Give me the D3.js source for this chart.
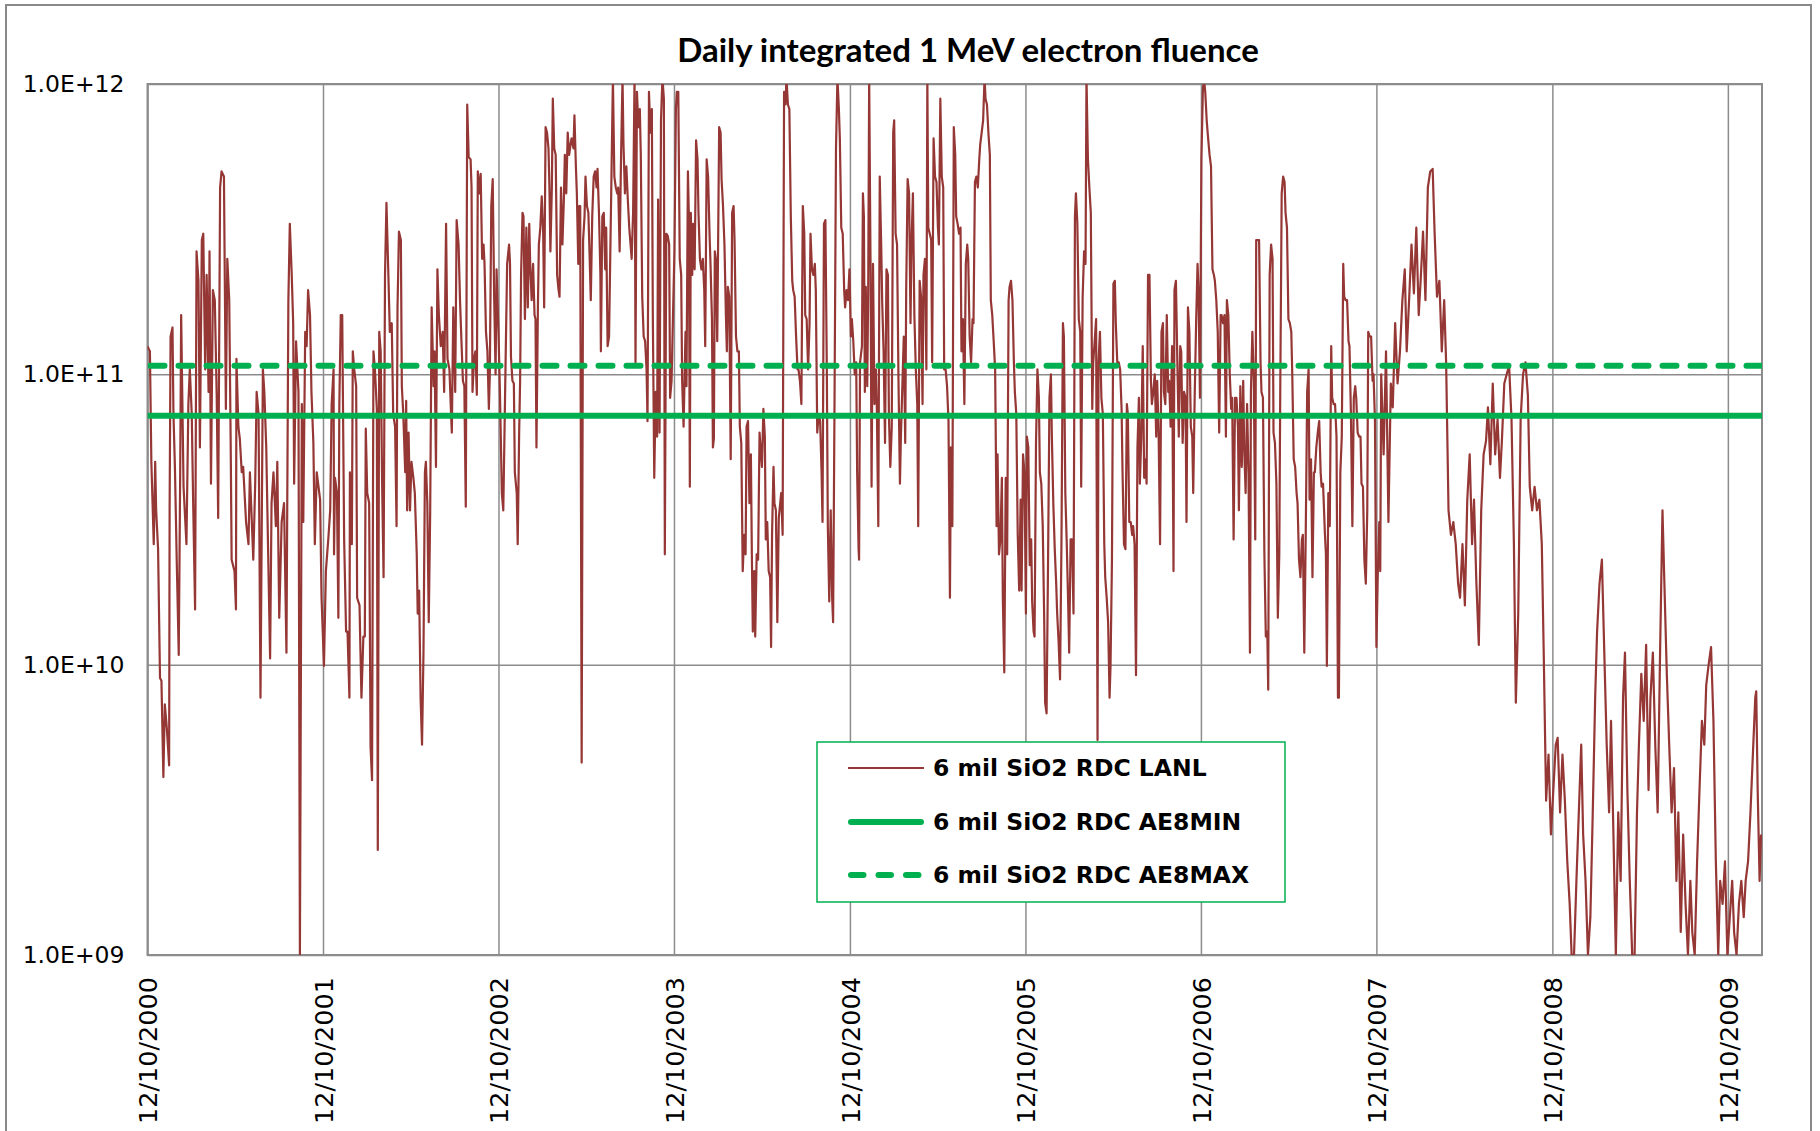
<!DOCTYPE html>
<html>
<head>
<meta charset="utf-8">
<script src="https://cdn.jsdelivr.net/npm/d3@7"></script>
<style>
  html, body { margin: 0; padding: 0; background: #fff; }
  svg { display: block; }
</style>
</head>
<body>
<div id="chart"></div>
<script>
(function () {
  'use strict';

  // ---- data ----
  var chartTitle = 'Daily integrated 1 MeV electron fluence';
  var startDate = new Date(2000, 11, 10);
  var endDay = 3358;
  var xTickYears = [2000, 2001, 2002, 2003, 2004, 2005, 2006, 2007, 2008, 2009];
  var yTickValues = [1e9, 1e10, 1e11, 1e12];
  var yTickLabels = ['1.0E+09', '1.0E+10', '1.0E+11', '1.0E+12'];
  var seriesNames = ['6 mil SiO2 RDC LANL', '6 mil SiO2 RDC AE8MIN', '6 mil SiO2 RDC AE8MAX'];
  var ae8minFluence = 7.2e10;
  var ae8maxFluence = 1.07e11;

  // [days since 12/10/2000, fluence]
  var lanlFluence = [
    [0,1.25e11],[5,1.2e11],[8,5.0e10],[13,2.6e10],[16,5.0e10],[18,3.4e10],[22,2.5e10],[26,9.0e9],[29,8.8e9],[33,4.1e9],
    [36,7.3e9],[40,6.1e9],[45,4.5e9],[46,3.4e10],[48,1.35e11],[52,1.45e11],[54,7.3e10],[57,4.8e10],[61,2.2e10],[65,1.08e10],
    [68,4.6e10],[70,1.6e11],[75,4.1e10],[81,2.6e10],[85,7.9e10],[88,1.04e11],[92,7.3e10],[95,3.6e10],[99,1.55e10],[102,2.65e11],
    [106,2.1e11],[109,5.6e10],[113,2.9e11],[116,3.05e11],[120,1.04e11],[123,2.2e11],[127,8.7e10],[129,2.65e11],[132,4.2e10],[136,1.95e11],
    [140,1.8e11],[144,8.3e10],[147,3.2e10],[151,4.4e11],[154,5.0e11],[159,4.8e11],[163,7.6e10],[166,2.5e11],[170,1.8e11],[173,5.8e10],
    [175,2.3e10],[181,2.1e10],[184,1.55e10],[185,1.13e11],[189,6.6e10],[192,6.0e10],[196,4.6e10],[199,4.8e10],[205,3.1e10],[210,2.6e10],
    [213,4.6e10],[217,3.1e10],[220,2.3e10],[224,4.2e10],[227,8.7e10],[231,7.3e10],[235,7.7e9],[240,1.04e11],[243,8.7e10],[247,5.6e10],
    [251,2.4e10],[255,1.05e10],[258,3.6e10],[262,4.6e10],[267,3.0e10],[270,5.0e10],[274,1.45e10],[279,3.1e10],[284,3.6e10],[289,1.1e10],
    [293,1.8e11],[296,3.3e11],[300,2.2e11],[303,1.5e11],[305,4.2e10],[309,1.3e11],[314,8.7e10],[317,1.0e9],[321,7.9e10],[324,3.1e10],
    [328,1.4e11],[331,1.25e11],[334,1.95e11],[338,1.6e11],[341,8.7e10],[345,5.8e10],[348,2.6e10],[352,4.6e10],[359,3.7e10],[362,1.7e10],
    [367,9.9e9],[371,2.1e10],[376,2.7e10],
    [380,3.4e10],[383,7.9e10],[387,1.04e11],[388,2.4e10],[390,4.4e10],[394,3.9e10],[397,1.45e10],[399,7.9e10],[402,1.6e11],[405,1.6e11],
    [409,2.7e10],[413,1.3e10],[416,1.3e10],[420,7.7e9],[421,4.6e10],[425,2.6e10],[427,1.2e11],[430,1.04e11],[434,9.1e10],[436,1.7e10],
    [441,1.6e10],[443,1.1e10],[445,7.7e9],[449,1.25e10],[452,1.25e10],[454,6.5e10],[457,3.9e10],[461,3.6e10],[464,5.2e9],[467,4.0e9],
    [470,1.2e11],[473,1.04e11],[477,7.6e10],[479,2.3e9],[482,1.4e11],[485,1.2e11],[488,4.2e10],[491,2.0e10],[494,2.2e11],[497,3.9e11],
    [501,2.2e11],[504,1.4e11],[508,1.5e11],[511,7.3e10],[515,6.6e10],[518,3.0e10],[520,1.7e11],[523,3.1e11],[527,2.9e11],[529,9.1e10],
    [532,7.3e10],[536,4.6e10],[538,8.1e10],[540,3.4e10],[543,6.3e10],[546,3.4e10],[549,5.0e10],[553,4.4e10],[556,3.9e10],[560,2.4e10],
    [562,1.5e10],[565,1.8e10],[568,7.7e9],[571,5.3e9],[574,1.1e10],[577,4.6e10],[579,5.0e10],[582,3.6e10],[585,1.4e10],[588,3.4e10],
    [591,1.7e11],[595,9.1e10],[597,1.2e11],[600,4.8e10],[603,2.3e11],[606,1.6e11],[610,1.25e11],[614,1.4e11],[617,8.7e10],[621,3.3e11],
    [624,1.13e11],[628,1.04e11],[631,7.6e10],[633,6.3e10],[636,1.7e11],[640,8.7e10],[643,3.4e11],[647,2.8e11],[650,1.8e11],[653,1.3e11],
    [656,9.5e10],[659,9.1e10],[662,3.5e10],[665,8.5e11],[668,5.6e11],[672,5.5e11],[674,4.4e11],[676,8.7e10],[679,1.13e11],[682,1.2e11],
    [685,8.5e10],[687,5.0e11],[690,4.2e11],[693,4.9e11],[696,2.5e11],[699,2.8e11],[701,2.4e11],[704,1.4e11],[707,1.2e11],[710,7.6e10],
    [712,1.0e11],[715,3.8e11],[718,4.7e11],[721,1.85e11],[724,1.0e11],[726,2.3e11],[730,1.4e11],[733,8.7e10],[737,3.9e10],[740,3.4e10],
    [744,9.1e10],[748,2.4e11],[752,2.8e11],
    [754,2.4e11],[756,1.15e11],[759,9.5e10],[762,9.3e10],[764,4.6e10],[768,3.9e10],[770,2.6e10],[773,6.3e10],[775,9.5e10],[777,2.2e11],
    [780,3.6e11],[782,3.5e11],[785,1.55e11],[788,3.2e11],[791,1.7e11],[794,3.3e11],[796,2.4e11],[799,1.8e11],[802,2.4e11],[805,1.6e11],
    [807,1.55e11],[809,5.6e10],[812,1.7e11],[814,2.8e11],[817,3.2e11],[820,4.1e11],[823,3.05e11],[825,1.7e11],[828,7.1e11],[831,6.8e11],
    [834,6.0e11],[836,4.4e11],[838,2.65e11],[841,4.4e11],[843,8.9e11],[846,6.0e11],[849,5.7e11],[852,2.2e11],[855,1.95e11],[857,1.85e11],
    [860,4.4e11],[863,2.8e11],[866,4.0e11],[868,5.7e11],[871,4.2e11],[874,6.8e11],[877,5.7e11],[880,6.2e11],[882,6.5e11],[886,6.0e11],
    [888,7.8e11],[891,5.2e11],[893,4.2e11],[896,2.4e11],[898,3.8e11],[900,3.8e11],[903,4.6e9],[906,2.9e11],[909,3.5e11],[911,4.8e11],
    [914,3.8e11],[917,3.6e11],[920,2.4e11],[922,1.8e11],[925,3.5e11],[928,4.8e11],[931,5.0e11],[934,4.4e11],[936,5.1e11],[939,3.6e11],
    [942,2.2e11],[943,1.2e11],[946,3.5e11],[949,3.6e11],[952,2.3e11],[954,3.2e11],[957,1.25e11],[960,1.35e11],[963,2.9e11],[965,4.8e11],
    [968,1.05e12],[971,4.8e11],[974,4.4e11],[977,4.2e11],[979,4.4e11],[982,2.65e11],[985,5.7e11],[988,1.05e12],[990,6.2e11],[993,4.2e11],
    [996,5.2e11],[999,4.0e11],[1002,3.2e11],[1004,2.9e11],[1007,2.5e11],[1010,3.6e11],[1013,1.05e12],[1015,1.1e11],[1018,9.4e11],[1021,7.1e11],
    [1024,8.2e11],[1026,5.7e11],[1029,1.85e11],[1032,1.35e11],[1035,1.3e11],[1038,1.04e11],[1040,6.9e10],[1043,9.4e11],[1046,6.8e11],[1049,8.2e11],
    [1051,1.6e11],[1054,4.4e10],[1057,8.7e10],[1060,6.1e10],[1062,4.0e11],[1065,6.3e10],[1068,7.5e11],[1071,1.05e12],[1074,8.9e11],[1076,2.4e10],
    [1079,3.05e11],[1082,3.0e11],[1085,2.8e11],[1087,8.3e10],[1090,9.5e10],[1093,1.6e11],[1096,2.65e11],[1099,8.2e11],[1101,9.4e11],[1104,9.4e11],
    [1107,2.5e11],[1110,2.2e11],[1112,9.5e10],[1115,6.6e10],
    [1119,1.4e11],[1121,9.1e10],[1124,5.0e11],[1126,3.5e11],[1128,4.1e10],[1130,3.6e11],[1133,2.2e11],[1135,3.3e11],[1138,2.3e11],[1141,6.4e11],
    [1144,5.5e11],[1146,3.6e11],[1149,2.5e11],[1152,2.3e11],[1155,2.5e11],[1158,1.95e11],[1160,1.25e11],[1163,5.5e11],[1166,4.8e11],[1169,3.05e11],
    [1171,2.4e11],[1174,1.55e11],[1176,5.6e10],[1178,6.0e10],[1180,2.65e11],[1182,2.5e11],[1185,1.3e11],[1187,3.05e11],[1189,7.1e11],[1192,6.8e11],
    [1194,4.7e11],[1197,3.8e11],[1200,2.8e11],[1203,1.6e11],[1205,1.2e11],[1207,2.0e11],[1210,1.85e11],[1213,5.1e10],[1216,3.6e11],[1219,3.8e11],
    [1221,2.9e11],[1224,1.35e11],[1227,1.2e11],[1230,1.2e11],[1232,6.6e10],[1235,5.8e10],[1238,2.1e10],[1241,2.8e10],[1244,2.4e10],[1246,6.6e10],
    [1249,6.9e10],[1252,3.6e10],[1255,5.3e10],[1257,2.4e10],[1259,1.3e10],[1262,2.1e10],[1264,1.25e10],[1267,2.4e10],[1270,2.3e10],[1273,6.3e10],
    [1275,5.6e10],[1278,4.8e10],[1281,7.6e10],[1284,6.1e10],[1286,2.7e10],[1289,3.1e10],[1292,2.1e10],[1295,2.0e10],[1297,1.15e10],[1299,2.8e10],
    [1302,4.8e10],[1304,3.6e10],[1307,3.4e10],[1310,1.4e10],[1313,3.2e10],[1316,3.6e10],[1318,3.9e10],[1321,2.8e10],[1324,9.4e11],[1327,8.5e11],
    [1329,1.05e12],[1332,8.5e11],[1335,8.2e11],[1338,3.5e11],[1341,2.1e11],[1343,1.95e11],[1346,1.85e11],[1349,1.35e11],[1352,1.04e11],[1354,1.04e11],
    [1357,9.5e10],[1360,7.9e10],[1363,3.8e11],[1366,3.05e11],[1368,1.6e11],[1371,1.55e11],[1374,1.04e11],[1377,1.5e11],[1379,3.05e11],[1382,2.3e11],
    [1385,2.2e11],[1388,2.4e11],[1390,1.95e11],[1393,6.3e10],[1396,7.3e10],[1399,6.9e10],[1402,4.6e10],[1404,3.1e10],[1407,3.3e11],[1410,3.4e11],
    [1413,1.0e11],[1415,3.0e10],[1418,1.65e10],[1421,3.4e10],[1424,1.7e10],[1426,1.4e10],[1429,8.3e10],[1432,6.0e11],[1435,1.05e12],[1438,8.2e11],
    [1440,6.5e11],[1443,3.2e11],[1446,3.05e11],[1449,1.95e11],[1451,1.7e11],[1454,1.95e11],[1457,1.8e11],[1460,2.3e11],[1463,1.35e11],[1465,1.55e11],
    [1468,1.3e11],[1471,1.0e11],[1474,1.1e11],[1476,4.6e10],[1479,2.5e10],
    [1480,2.3e10],[1482,1.1e11],[1486,1.25e11],[1488,4.2e11],[1490,3.5e11],[1492,8.7e10],[1494,2.0e11],[1497,9.1e10],[1499,1.95e11],[1501,1.05e12],
    [1504,2.2e11],[1506,4.1e10],[1509,2.4e11],[1512,7.9e10],[1515,1.04e11],[1517,7.6e10],[1520,3.0e10],[1523,4.8e11],[1526,2.8e11],[1528,1.8e11],
    [1531,1.2e11],[1534,5.8e10],[1537,2.3e11],[1540,2.2e11],[1542,7.3e10],[1545,4.8e10],[1548,6.6e10],[1551,6.8e11],[1553,7.5e11],[1556,3.05e11],
    [1559,2.8e11],[1562,9.5e10],[1565,4.2e10],[1567,6.1e10],[1570,9.1e10],[1573,1.35e11],[1576,5.8e10],[1578,1.95e11],[1581,4.7e11],[1584,4.2e11],
    [1587,1.5e11],[1589,2.8e11],[1592,4.2e11],[1595,1.6e11],[1598,1.04e11],[1601,7.9e10],[1603,3.0e10],[1606,2.1e11],[1609,1.85e11],[1612,7.9e10],
    [1614,2.2e11],[1617,2.5e11],[1620,1.04e11],[1622,1.05e12],[1624,3.2e11],[1627,3.05e11],[1630,2.9e11],[1632,1.1e11],[1635,6.5e11],[1638,4.8e11],
    [1641,4.6e11],[1644,3.2e11],[1646,2.8e11],[1649,8.9e11],[1652,4.8e11],[1655,4.4e11],[1657,1.04e11],[1660,1.04e11],[1663,9.1e10],[1666,6.9e10],
    [1669,1.7e10],[1671,5.6e10],[1674,3.0e10],[1677,7.1e11],[1680,5.7e11],[1682,3.5e11],[1685,3.3e11],[1688,3.05e11],[1691,3.2e11],[1693,1.2e11],
    [1696,1.55e11],[1699,7.9e10],[1702,2.4e11],[1705,2.8e11],[1707,2.5e11],[1710,1.35e11],[1713,1.1e11],[1716,1.55e11],[1718,1.5e11],[1721,4.6e11],
    [1724,4.8e11],[1727,4.4e11],[1730,5.5e11],[1732,6.2e11],[1735,6.8e11],[1738,7.5e11],[1741,1.05e12],[1743,8.9e11],[1746,8.5e11],[1749,6.8e11],
    [1752,5.7e11],[1754,1.8e11],[1757,1.6e11],[1760,1.3e11],[1763,1.04e11],[1766,3.0e10],[1768,5.3e10],[1771,2.4e10],[1774,2.7e10],[1777,4.4e10],
    [1779,1.7e10],[1782,9.4e9],[1785,4.4e10],[1788,2.4e10],[1791,1.8e11],[1793,2.0e11],[1796,2.1e11],[1799,1.8e11],[1802,1.1e11],[1804,8.7e10],
    [1807,7.3e10],[1810,2.8e10],[1813,1.8e10],[1816,3.7e10],[1818,1.8e10],[1821,5.3e10],[1824,4.6e10],[1827,1.5e10],[1829,6.1e10],[1832,5.6e10],
    [1835,2.2e10],[1838,2.7e10],[1840,1.65e10],[1843,1.3e10],
    [1845,1.25e10],[1848,5.8e10],[1851,1.04e11],[1854,8.3e10],[1856,4.6e10],[1859,4.2e10],[1862,3.0e10],[1865,1.45e10],[1867,7.4e9],[1870,6.8e9],
    [1873,2.2e10],[1876,8.3e10],[1879,1.0e11],[1881,6.1e10],[1884,3.6e10],[1887,2.5e10],[1890,1.9e10],[1892,1.5e10],[1895,1.2e10],[1898,8.9e9],
    [1901,2.7e10],[1904,1.5e11],[1906,1.35e11],[1909,3.9e10],[1912,2.6e10],[1915,1.6e10],[1917,1.1e10],[1920,2.7e10],[1923,2.7e10],[1926,1.5e10],
    [1929,3.5e11],[1931,4.2e11],[1934,3.3e11],[1937,1.55e11],[1940,1.4e11],[1942,4.1e10],[1945,1.85e11],[1948,2.65e11],[1951,2.4e11],[1953,1.05e12],
    [1956,5.5e11],[1959,4.4e11],[1962,3.6e11],[1965,7.6e10],[1967,1.1e11],[1970,1.3e11],[1973,1.55e11],[1976,5.5e9],[1978,1.1e11],[1981,1.4e11],
    [1984,8.3e10],[1987,7.3e10],[1990,2.6e10],[1992,2.0e10],[1995,1.7e10],[1998,1.4e10],[2001,7.7e9],[2003,9.9e9],[2006,2.3e10],[2009,2.05e11],
    [2012,2.1e11],[2014,1.5e11],[2017,1.1e11],[2020,1.1e11],[2023,1.04e11],[2026,7.6e10],[2028,4.6e10],[2031,2.6e10],[2034,2.5e10],[2037,7.9e10],
    [2039,7.3e10],[2042,3.1e10],[2045,3.1e10],[2048,2.8e10],[2050,3.0e10],[2053,2.6e10],[2056,9.2e9],[2059,5.6e10],[2062,8.3e10],[2064,4.2e10],
    [2067,6.1e10],[2070,1.25e11],[2073,4.4e10],[2076,5.1e10],[2078,4.2e10],[2081,2.2e11],[2084,2.2e11],[2087,9.5e10],[2089,7.9e10],[2092,8.7e10],
    [2095,1.0e11],[2098,6.1e10],[2100,9.5e10],[2103,6.3e10],[2106,2.6e10],[2109,1.4e11],[2112,1.5e11],[2114,8.7e10],[2117,7.9e10],[2120,1.6e11],
    [2123,8.7e10],[2125,9.5e10],[2128,6.6e10],[2131,1.25e11],[2134,2.1e10],[2136,1.95e11],[2139,2.1e11],[2142,1.1e11],[2145,6.1e10],[2148,1.25e11],
    [2150,1.2e11],[2153,5.8e10],[2156,8.7e10],[2159,8.3e10],[2161,3.1e10],[2164,1.7e11],[2167,1.4e11],[2170,6.6e10],[2173,6.1e10],[2175,3.9e10],
    [2178,8.3e10],[2181,1.5e11],[2184,2.4e11],[2186,1.95e11],[2189,8.3e10],[2192,5.5e11],[2195,9.4e11],[2197,1.05e12],[2200,9.4e11],[2203,7.5e11],
    [2206,6.5e11],[2209,5.7e11],
    [2212,5.2e11],[2215,2.3e11],[2218,2.2e11],[2220,2.1e11],[2223,1.8e11],[2226,1.4e11],[2229,6.3e10],[2232,1.6e11],[2234,1.6e11],[2237,1.5e11],
    [2240,1.6e11],[2243,6.1e10],[2245,1.8e11],[2248,1.6e11],[2251,1.0e11],[2254,7.6e10],[2256,8.3e10],[2259,2.7e10],[2262,8.3e10],[2265,8.3e10],
    [2268,6.6e10],[2270,3.4e10],[2273,9.1e10],[2276,4.8e10],[2279,9.5e10],[2281,5.6e10],[2284,3.9e10],[2287,7.9e10],[2290,4.6e10],[2293,1.1e10],
    [2295,8.7e10],[2298,1.4e11],[2301,9.5e10],[2304,2.7e10],[2306,2.9e11],[2309,2.9e11],[2312,2.9e11],[2315,1.1e11],[2317,8.7e10],[2320,8.3e10],
    [2323,2.4e10],[2326,1.25e10],[2329,1.3e10],[2331,8.2e9],[2334,2.2e11],[2337,2.8e11],[2340,2.5e11],[2342,6.3e10],[2345,5.8e10],[2348,4.2e10],
    [2351,1.45e10],[2354,2.4e10],[2356,8.7e10],[2359,4.2e11],[2362,4.8e11],[2365,4.6e11],[2367,3.6e11],[2370,3.2e11],[2373,1.55e11],[2376,1.5e11],
    [2379,1.4e11],[2381,1.0e11],[2384,5.1e10],[2387,4.8e10],[2390,3.9e10],[2392,3.6e10],[2395,2.3e10],[2398,2.0e10],[2401,2.7e10],[2403,2.8e10],
    [2406,1.1e10],[2409,2.8e10],[2412,8.7e10],[2415,1.04e11],[2417,3.7e10],[2420,5.1e10],[2423,2.0e10],[2426,4.6e10],[2428,4.6e10],[2431,5.6e10],
    [2434,6.3e10],[2437,6.9e10],[2440,4.6e10],[2442,4.1e10],[2445,4.2e10],[2449,2.8e10],[2451,2.4e10],[2453,9.9e9],[2456,3.9e10],[2459,3.0e10],
    [2462,1.25e11],[2464,8.3e10],[2467,7.9e10],[2470,7.9e10],[2473,6.1e10],[2476,7.7e9],[2478,7.7e9],[2481,4.6e10],[2484,6.1e10],[2487,2.4e11],
    [2489,1.85e11],[2492,1.8e11],[2495,1.8e11],[2498,1.3e11],[2500,1.25e11],[2503,7.3e10],[2506,3.0e10],[2509,8.3e10],[2512,9.1e10],[2514,8.3e10],
    [2517,6.3e10],[2520,6.1e10],[2523,6.1e10],[2525,4.2e10],[2528,4.1e10],[2531,2.3e10],[2534,1.9e10],[2537,3.4e10],[2539,1.4e11],[2542,1.35e11],
    [2545,1.35e11],[2548,9.5e10],[2550,1.0e11],[2553,6.9e10],[2556,1.15e10],[2559,2.1e10],[2562,3.1e10],[2564,2.1e10],
    [2566,1.0e11],[2571,5.3e10],[2576,1.2e11],[2581,3.1e10],[2586,9.3e10],[2590,7.7e10],[2595,1.5e11],[2600,9.3e10],[2605,1.2e11],[2610,1.8e11],
    [2615,2.3e11],[2619,1.2e11],[2624,1.8e11],[2629,2.8e11],[2634,1.9e11],[2639,3.2e11],[2644,1.6e11],[2648,2.1e11],[2653,3.1e11],[2658,1.8e11],
    [2663,4.4e11],[2668,5.0e11],[2673,5.1e11],[2677,3.1e11],[2682,1.85e11],[2687,2.1e11],[2692,1.2e11],[2697,1.8e11],[2701,1.1e11],[2706,3.4e10],
    [2711,2.8e10],[2716,3.1e10],[2721,2.6e10],[2726,1.9e10],[2730,1.7e10],[2735,2.6e10],[2740,1.6e10],[2745,3.7e10],[2750,5.3e10],[2755,2.6e10],
    [2759,3.7e10],[2764,1.9e10],[2769,1.17e10],[2774,3.4e10],[2779,5.3e10],[2784,5.9e10],[2788,7.7e10],[2793,4.9e10],[2798,9.3e10],[2803,5.3e10],
    [2808,7.0e10],[2813,4.4e10],[2817,5.9e10],[2822,9.3e10],[2827,1.0e11],[2832,1.07e11],[2837,7.0e10],[2842,2.6e10],[2846,7.4e9],[2851,1.5e10],
    [2856,7.0e10],[2861,1.0e11],[2866,1.1e11],[2871,8.5e10],[2875,4.1e10],[2880,3.4e10],[2885,4.1e10],[2890,3.4e10],[2895,3.7e10],[2900,2.6e10],
    [2904,1.1e10],[2909,3.4e9],[2914,4.9e9],[2919,2.6e9],[2924,3.7e9],[2929,5.3e9],[2933,5.6e9],[2938,3.1e9],[2943,4.9e9],[2948,3.4e9],
    [2953,2.1e9],[2958,1.5e9],[2962,1.0e9],[2967,1.0e9],[2972,1.8e9],[2977,3.1e9],[2982,5.3e9],[2986,2.6e9],[2991,1.8e9],[2996,1.0e9],
    [3001,1.35e9],[3006,3.1e9],[3011,7.7e9],[3015,1.3e10],[3020,1.9e10],[3025,2.3e10],[3030,1.1e10],[3035,5.3e9],[3040,3.1e9],[3044,6.4e9],
    [3049,2.6e9],[3054,1.0e9],[3059,3.1e9],[3064,1.8e9],[3069,7.7e9],[3073,1.1e10],[3078,3.7e9],[3083,1.8e9],[3088,1.0e9],[3093,1.0e9],
    [3098,3.1e9],[3102,5.3e9],[3107,9.3e9],[3112,6.4e9],[3117,1.17e10],[3122,3.7e9],[3126,7.7e9],[3131,1.1e10],[3136,5.3e9],[3141,3.1e9],
    [3146,1.1e10],[3151,3.4e10],[3155,1.9e10],[3160,9.3e9],[3165,5.3e9],[3170,3.1e9],[3175,4.4e9],[3180,1.8e9],[3184,3.1e9],[3189,1.2e9],
    [3194,2.6e9],[3199,1.5e9],[3204,1.0e9],[3209,1.8e9],[3213,1.2e9],[3218,1.0e9],[3223,2.1e9],[3228,3.7e9],[3233,6.4e9],[3238,5.3e9],
    [3242,8.5e9],[3247,1.0e10],[3252,1.15e10],[3257,6.4e9],[3262,2.1e9],[3267,1.0e9],[3271,1.8e9],[3276,1.5e9],[3281,2.1e9],[3286,1.0e9],
    [3291,1.35e9],[3296,1.8e9],[3300,1.2e9],[3305,1.0e9],[3310,1.5e9],[3315,1.8e9],[3320,1.35e9],[3324,1.8e9],[3329,2.1e9],[3334,3.1e9],
    [3339,4.9e9],[3344,7.7e9],[3346,8.1e9],[3349,3.7e9],[3353,1.8e9],[3356,2.6e9]
  ];

  // ---- layout ----
  var W = 1820, H = 1131;
  var margin = { top: 84, right: 58, bottom: 176, left: 147.5 };
  var width = W - margin.left - margin.right;
  var height = H - margin.top - margin.bottom;

  var svg = d3.select('#chart').append('svg')
    .attr('width', W)
    .attr('height', H);

  // outer chart border
  svg.append('rect')
    .attr('x', 6).attr('y', 5)
    .attr('width', 1805).attr('height', 1140)
    .attr('fill', '#fff')
    .attr('stroke', '#898989')
    .attr('stroke-width', 2);

  var xScale = d3.scaleTime()
    .domain([startDate, d3.timeDay.offset(startDate, endDay)])
    .range([0, width]);
  var yScale = d3.scaleLog()
    .domain([yTickValues[0], yTickValues[yTickValues.length - 1]])
    .range([height, 0]);

  var xTickDates = xTickYears.map(function(y) { return new Date(y, 11, 10); });

  var g = svg.append('g')
    .attr('transform', 'translate(' + margin.left + ',' + margin.top + ')');

  // gridlines
  g.append('g')
    .attr('class', 'grid y')
    .call(d3.axisLeft(yScale).tickValues(yTickValues).tickSize(-width).tickFormat(''))
    .call(function(s) { s.select('.domain').remove(); })
    .selectAll('line')
      .attr('stroke', '#8c8c8c')
      .attr('stroke-width', 1.5);

  g.append('g')
    .attr('class', 'grid x')
    .attr('transform', 'translate(0,' + height + ')')
    .call(d3.axisBottom(xScale).tickValues(xTickDates).tickSize(-height).tickFormat(''))
    .call(function(s) { s.select('.domain').remove(); })
    .selectAll('line')
      .attr('stroke', '#8c8c8c')
      .attr('stroke-width', 1.5);

  // plot frame
  g.append('rect')
    .attr('width', width)
    .attr('height', height)
    .attr('fill', 'none')
    .attr('stroke', '#8c8c8c')
    .attr('stroke-width', 2);

  // Y AXIS labels
  var yAxis = g.append('g')
    .attr('class', 'y axis')
    .call(d3.axisLeft(yScale).tickValues(yTickValues).tickSize(0).tickPadding(23)
      .tickFormat(function(d, i) { return yTickLabels[i]; }));
  yAxis.select('.domain').remove();
  yAxis.selectAll('text')
    .style('font-family', 'DejaVu Sans')
    .style('font-size', '23.5px')
    .attr('fill', '#000');

  // X AXIS labels, rotated
  var xAxis = g.append('g')
    .attr('class', 'x axis')
    .attr('transform', 'translate(0,' + height + ')')
    .call(d3.axisBottom(xScale).tickValues(xTickDates).tickSize(0)
      .tickFormat(d3.timeFormat('%m/%d/%Y')));
  xAxis.select('.domain').remove();
  xAxis.selectAll('text')
    .attr('transform', 'rotate(-90)')
    .attr('x', -22)
    .attr('y', 0)
    .attr('dy', '0.36em')
    .style('text-anchor', 'end')
    .style('font-family', 'DejaVu Sans')
    .style('font-size', '25.5px')
    .attr('fill', '#000');

  // clip for series
  g.append('clipPath')
    .attr('id', 'plot-clip')
    .append('rect')
      .attr('width', width)
      .attr('height', height);

  var series = g.append('g').attr('clip-path', 'url(#plot-clip)');

  var line = d3.line()
    .x(function(d) { return xScale(d3.timeDay.offset(startDate, d[0])); })
    .y(function(d) { return yScale(d[1]); });

  series.append('path')
    .datum(lanlFluence)
    .attr('d', line)
    .attr('fill', 'none')
    .attr('stroke', '#953735')
    .attr('stroke-width', 2.2)
    .attr('stroke-linejoin', 'round');

  // AE8 model levels
  series.append('line')
    .attr('x1', 0).attr('x2', width)
    .attr('y1', yScale(ae8minFluence)).attr('y2', yScale(ae8minFluence))
    .attr('stroke', '#00b050')
    .attr('stroke-width', 6);

  series.append('line')
    .attr('x1', 3).attr('x2', width)
    .attr('y1', yScale(ae8maxFluence)).attr('y2', yScale(ae8maxFluence))
    .attr('stroke', '#00b050')
    .attr('stroke-width', 6)
    .attr('stroke-linecap', 'round')
    .attr('stroke-dasharray', '14,14');

  // title
  svg.append('text')
    .attr('x', 968)
    .attr('y', 62)
    .attr('text-anchor', 'middle')
    .style('font-family', 'Lato')
    .style('font-weight', 'bold')
    .style('font-size', '33px')
    .text(chartTitle);

  // LEGEND
  var legend = svg.append('g')
    .attr('transform', 'translate(817,742)');
  legend.append('rect')
    .attr('width', 468)
    .attr('height', 160)
    .attr('fill', '#fff')
    .attr('stroke', '#00b050')
    .attr('stroke-width', 1.5);

  var rowY = [26, 80, 133];
  var rows = legend.selectAll('.entry')
    .data(seriesNames)
    .enter().append('g')
    .attr('class', 'entry')
    .attr('transform', function(d, i) { return 'translate(0,' + rowY[i] + ')'; });

  rows.append('line')
    .attr('x1', function(d, i) { return i === 0 ? 31 : 34; })
    .attr('x2', function(d, i) { return i === 0 ? 107 : 104; })
    .attr('stroke', function(d, i) { return i === 0 ? '#953735' : '#00b050'; })
    .attr('stroke-width', function(d, i) { return i === 0 ? 1.8 : 6; })
    .attr('stroke-linecap', function(d, i) { return i === 0 ? 'butt' : 'round'; })
    .attr('stroke-dasharray', function(d, i) { return i === 2 ? '12.5,15' : null; });

  rows.append('text')
    .attr('x', 116)
    .attr('dy', '0.36em')
    .style('font-family', 'DejaVu Sans')
    .style('font-weight', 'bold')
    .style('font-size', '23.5px')
    .text(function(d) { return d; });
}());
</script>
</body>
</html>
